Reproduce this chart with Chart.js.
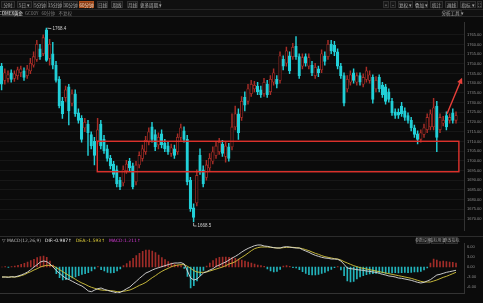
<!DOCTYPE html>
<html>
<head>
<meta charset="utf-8">
<script src="https://cdn.jsdelivr.net/npm/chart.js@4.4.1/dist/chart.umd.min.js"></script>
<style>
  body { margin: 0; background: #0b0b0b; width: 483px; height: 303px; overflow: hidden; position: relative; }
  canvas { position: absolute; left: 0; display: block; }
  #top { top: 0; }
  #main { top: 17px; }
  #macd { top: 236px; }
</style>
</head>
<body>
<canvas id="top" width="483" height="17"></canvas>
<canvas id="main" width="483" height="219"></canvas>
<canvas id="macd" width="483" height="67"></canvas>
<script>
// hourly candles, COMEX gold
const opens = [
  1748.8,1741.5,1742.5,1745.4,1742.5,1743.9,1745.4,1746.4,1743.9,1746.4,
  1749.3,1752.3,1757.7,1755.2,1767.5,1752.8,1755.2,1749.3,1742.0,1730.7,
  1732.7,1738.1,1729.7,1734.6,1724.8,1721.9,1717.0,1718.9,1713.6,1710.1,
  1710.1,1718.9,1711.1,1706.2,1701.3,1698.4,1695.4,1690.0,1688.6,1694.9,
  1699.8,1697.4,1689.1,1697.9,1701.3,1704.7,1709.6,1717.5,1713.6,1708.2,
  1714.0,1709.1,1707.7,1703.8,1706.2,1704.7,1712.1,1715.5,1711.1,1690.0,
  1675.8,1678.3,1702.8,1695.4,1691.5,1696.4,1699.8,1702.8,1704.7,1708.7,
  1702.3,1707.2,1707.2,1717.5,1724.3,1722.4,1732.7,1730.7,1734.6,1737.1,
  1738.5,1736.6,1734.6,1739.5,1735.6,1740.5,1742.0,1741.5,1752.3,1750.3,
  1754.2,1753.7,1759.1,1753.7,1748.8,1753.7,1748.8,1749.3,1743.9,1747.4,
  1746.9,1754.2,1753.7,1760.1,1759.6,1756.2,1748.8,1743.9,1737.1,1740.5,
  1745.4,1740.5,1743.9,1739.5,1742.0,1741.5,1743.0,1737.1,1743.0,1739.0,
  1738.1,1735.6,1730.7,1725.3,1725.0,1728.3,1725.8,1723.4,1720.9,1717.0,
  1714.0,1711.1,1713.6,1716.0,1717.5,1717.5,1728.3,1716.0,1719.4,1723.4,
  1720.9,1724.8,1720.9
];
const highs = [
  1750.3,1747.4,1746.4,1746.9,1746.4,1748.3,1748.8,1747.9,1749.3,1752.8,
  1756.2,1762.1,1760.1,1765.0,1768.4,1762.6,1761.1,1751.3,1743.4,1732.7,
  1738.5,1739.5,1736.6,1736.6,1726.8,1723.4,1721.9,1720.9,1715.0,1712.1,
  1721.9,1720.9,1713.1,1708.2,1702.8,1699.8,1697.4,1691.5,1697.4,1700.3,
  1701.3,1698.9,1699.8,1704.7,1708.2,1712.6,1717.0,1719.9,1716.0,1714.5,
  1716.0,1711.1,1709.6,1708.7,1708.2,1714.0,1718.9,1717.5,1713.1,1691.5,
  1677.8,1695.4,1706.2,1697.4,1700.3,1703.8,1707.2,1709.6,1711.6,1710.6,
  1709.6,1709.1,1724.3,1728.3,1726.8,1733.2,1735.6,1739.5,1741.5,1741.0,
  1740.5,1738.5,1742.5,1741.5,1743.9,1747.4,1743.9,1756.2,1754.2,1758.6,
  1756.2,1760.6,1764.0,1755.2,1755.2,1755.2,1755.2,1751.3,1750.3,1748.8,
  1757.2,1756.2,1762.1,1762.1,1761.6,1757.7,1750.3,1745.4,1743.9,1746.4,
  1747.4,1745.4,1745.4,1744.9,1748.3,1746.4,1744.4,1743.4,1744.4,1740.5,
  1739.5,1737.1,1732.2,1726.8,1726.8,1730.2,1727.3,1724.8,1722.4,1718.5,
  1715.5,1716.0,1718.9,1724.3,1726.3,1732.2,1730.7,1724.3,1722.9,1725.3,
  1724.3,1726.8,1725.3
];
const lows = [
  1736.6,1739.5,1740.5,1740.5,1741.0,1742.0,1743.4,1741.5,1742.5,1744.9,
  1748.3,1751.3,1752.3,1754.2,1751.3,1749.3,1747.4,1740.5,1727.3,1721.9,
  1730.7,1718.5,1728.3,1722.9,1719.4,1709.6,1715.0,1702.8,1706.2,1697.9,
  1708.7,1706.2,1703.8,1699.8,1695.9,1691.5,1686.6,1685.1,1687.1,1693.5,
  1694.9,1685.6,1687.6,1696.4,1699.8,1703.3,1708.2,1709.6,1705.2,1706.2,
  1706.7,1704.7,1703.3,1702.3,1701.3,1703.3,1710.6,1709.6,1687.6,1673.9,
  1668.5,1676.8,1693.0,1686.6,1690.0,1694.9,1698.4,1701.3,1703.3,1702.3,
  1699.3,1699.8,1705.7,1716.0,1711.1,1720.9,1725.8,1729.2,1733.2,1735.6,
  1734.1,1732.7,1733.2,1732.7,1734.1,1739.0,1737.6,1740.0,1746.9,1748.8,
  1744.9,1752.3,1752.3,1742.5,1747.4,1748.8,1747.4,1743.9,1742.5,1743.4,
  1745.4,1749.3,1752.3,1755.2,1754.2,1747.4,1742.5,1728.3,1735.6,1739.0,
  1740.0,1739.0,1739.0,1738.1,1740.5,1740.0,1729.7,1735.6,1735.6,1732.7,
  1729.2,1730.2,1723.4,1721.9,1721.9,1722.9,1720.9,1719.4,1715.5,1712.1,
  1708.7,1709.6,1712.1,1714.5,1716.0,1716.0,1704.7,1714.5,1718.0,1716.0,
  1719.4,1719.4,1719.4
];
const closes = [
  1739.5,1745.4,1744.4,1742.0,1744.9,1746.9,1747.4,1743.0,1747.4,1750.3,
  1753.7,1760.1,1753.7,1763.5,1751.8,1760.1,1749.3,1741.5,1728.3,1724.3,
  1736.6,1725.8,1734.6,1724.3,1720.9,1711.1,1719.9,1714.5,1707.7,1702.8,
  1716.0,1707.7,1705.2,1701.3,1697.4,1693.0,1688.1,1686.6,1695.4,1698.4,
  1696.4,1686.6,1697.9,1702.8,1706.2,1710.6,1715.0,1711.1,1707.2,1712.1,
  1708.2,1706.2,1704.7,1706.7,1702.8,1712.1,1717.0,1711.1,1689.1,1675.3,
  1670.9,1692.5,1694.4,1688.1,1697.9,1701.3,1704.7,1707.7,1709.6,1703.8,
  1707.7,1701.3,1717.5,1724.3,1714.5,1730.7,1728.7,1737.1,1739.5,1739.0,
  1735.6,1734.1,1740.5,1734.1,1742.0,1745.4,1739.5,1754.2,1748.8,1756.7,
  1746.4,1758.6,1753.7,1743.9,1753.2,1750.3,1753.2,1745.4,1748.3,1745.4,
  1755.2,1751.3,1760.1,1756.7,1756.2,1748.8,1743.9,1729.7,1742.0,1744.4,
  1741.5,1743.9,1740.5,1743.0,1746.4,1744.4,1731.7,1741.5,1737.1,1734.1,
  1730.7,1731.7,1724.8,1723.4,1723.6,1724.3,1722.4,1720.9,1717.0,1713.6,
  1711.1,1714.5,1717.0,1722.4,1724.3,1727.3,1712.1,1722.4,1720.9,1717.5,
  1722.4,1720.9,1723.4
];

// MACD(12,26,9)
const dif = [
  -3.0,-3.0,-3.1,-2.9,-3.0,-2.7,-2.4,-2.0,-1.5,-0.8,
  0.0,0.7,1.5,1.8,1.6,0.9,0.0,-1.1,-1.9,-2.7,
  -3.4,-3.8,-4.3,-4.8,-5.3,-5.7,-6.4,-7.2,-7.4,-6.9,
  -6.5,-6.3,-6.7,-7.0,-7.3,-7.5,-7.8,-7.6,-7.1,-6.5,
  -6.0,-5.1,-4.3,-3.4,-2.6,-1.8,-1.4,-0.9,-0.5,-0.2,
  0.1,0.4,0.7,1.0,1.2,1.2,1.3,0.9,-1.2,-3.3,
  -3.9,-3.6,-2.7,-1.8,-1.4,-0.9,-0.5,0.2,0.6,1.1,
  1.5,2.1,2.7,3.2,3.8,4.5,5.1,5.6,6.0,6.4,
  6.6,6.6,6.3,6.2,6.0,5.8,5.7,5.7,6.0,6.1,
  6.0,5.8,5.7,5.7,5.2,4.8,4.4,3.9,3.5,3.2,
  2.9,2.7,2.6,2.4,2.4,2.3,1.8,0.8,-0.3,-0.5,
  -0.6,-0.8,-0.9,-1.0,-1.2,-1.3,-1.5,-1.6,-1.9,-2.2,
  -2.4,-2.7,-2.8,-3.0,-3.3,-3.4,-3.6,-3.8,-4.0,-4.3,
  -4.6,-4.8,-4.6,-4.2,-3.8,-3.1,-2.4,-2.2,-1.9,-1.6,
  -1.4,-1.2,-0.987
];
const dea = [
  -3.0,-3.0,-3.0,-3.0,-3.0,-2.9,-2.6,-2.3,-1.8,-1.4,
  -0.9,-0.5,0.0,0.3,0.5,0.5,0.3,-0.2,-0.8,-1.4,
  -2.0,-2.6,-3.1,-3.7,-4.3,-4.8,-5.2,-5.7,-6.1,-6.4,
  -6.7,-6.9,-7.0,-7.0,-7.1,-7.2,-7.4,-7.4,-7.3,-7.1,
  -6.9,-6.5,-6.0,-5.5,-5.1,-4.6,-3.9,-3.2,-2.6,-1.9,
  -1.3,-0.8,-0.4,0.1,0.4,0.6,0.7,0.7,0.2,-0.4,
  -1.1,-1.5,-1.6,-1.6,-1.5,-1.2,-0.9,-0.6,-0.3,0.0,
  0.4,0.9,1.2,1.6,2.3,2.9,3.5,4.2,4.9,5.5,
  5.8,6.0,6.0,6.0,5.9,5.8,5.7,5.7,5.8,5.9,
  5.9,5.9,5.8,5.7,5.5,5.2,4.9,4.5,4.1,3.8,
  3.4,3.1,2.9,2.7,2.5,2.4,2.1,1.6,1.2,0.8,
  0.4,0.1,-0.2,-0.4,-0.6,-0.8,-1.0,-1.2,-1.4,-1.6,
  -1.8,-2.0,-2.2,-2.4,-2.6,-2.8,-3.0,-3.2,-3.4,-3.7,
  -4.0,-4.3,-4.5,-4.5,-4.5,-4.2,-3.9,-3.5,-3.1,-2.8,
  -2.4,-2.0,-1.593
];
const macdHist = [
  0.0,0.1,-0.1,0.1,0.3,0.5,0.8,1.1,1.5,1.9,
  2.3,2.8,3.1,3.3,2.9,1.8,0.6,-2.0,-3.2,-3.9,
  -3.8,-3.6,-3.3,-3.0,-2.6,-2.2,-2.0,-1.7,-1.2,-0.6,
  0.1,-0.8,-1.2,-1.6,-1.8,-1.7,-1.2,-0.6,0.4,1.0,
  1.8,2.6,3.4,4.1,4.7,5.1,5.1,4.8,4.3,3.6,
  2.8,2.2,1.6,1.2,0.9,0.6,0.4,-0.4,-2.8,-6.3,
  -5.6,-4.2,-2.6,-1.0,0.3,1.2,1.9,2.5,2.9,3.0,
  3.0,2.9,2.8,2.6,2.4,2.1,1.8,1.5,1.2,0.9,
  0.6,0.4,0.2,-0.6,-1.2,-1.5,-1.3,-0.7,0.3,0.4,
  0.2,-0.2,-0.3,-0.8,-1.4,-1.9,-2.3,-2.4,-2.4,-2.2,
  -1.9,-1.6,-1.2,-0.7,-0.2,0.1,-0.9,-2.6,-4.2,-4.5,
  -4.3,-3.6,-3.0,-2.6,-2.3,-2.1,-2.0,-1.9,-1.8,-1.8,
  -1.9,-1.8,-1.8,-1.7,-1.8,-1.7,-1.6,-1.7,-1.6,-1.5,
  -1.5,-1.3,-0.9,-0.3,1.2,2.4,2.1,1.6,1.8,1.6,
  1.5,1.4,1.211
];

// axis ticks
const priceTicks = [1765,1760,1755,1750,1745,1740,1735,1730,1725,1720,1715,1710,1705,1700,1695,1690,1685,1680,1675,1670];
const macdTicks = [6, 3, 0, -3, -6];
const tickIndex = [4,10,17,22,29,32,36,40,47,52,60,63,70,79,82,88,94,100,109,114,118,124,129,137,141];
const tickText = ['4:00','14:30','4/21','9:30','20:30','4/22','4:00','17:30','4/23','9:30','17:30','4/26','12:30','4/27','7:30','15:30','4/28','11:30','4/29','6:30','15:30','4/30','10:30','18:30','5/03'];

// hand-drawn marks on the chart (in data units)
const zone = { from: 29.9, to: 142.9, top: 1710.1, bottom: 1694.4 };
const arrow = { x0: 139.2, y0: 1724.3, x1: 143.9, y1: 1742.9 };

const RED = '#a82d27';
const CYAN = '#22d0d8';
const BG = '#0b0b0b';
const AXIS_W = 19;

const slots = opens.length + 2;
const categories = new Array(slots).fill('');
tickIndex.forEach((k, j) => { categories[k] = tickText[j]; });

const bodies = opens.map((o, i) => [o, closes[i]]);
const wicks = lows.map((l, i) => [l, highs[i]]);
const isUp = i => closes[i] >= opens[i];

// ---- toolbar (plain canvas) ----
(function drawTop() {
  const c = document.getElementById('top').getContext('2d');
  c.fillStyle = '#101010';
  c.fillRect(0, 0, 483, 17);
  c.strokeStyle = '#262626';
  c.lineWidth = 1;
  c.beginPath(); c.moveTo(0, 9.5); c.lineTo(483, 9.5); c.moveTo(0, 16.5); c.lineTo(483, 16.5); c.stroke();
  c.font = '4.5px "Noto Sans CJK SC"';
  c.textAlign = 'center';
  c.textBaseline = 'middle';
  const btns = [
    [1, 14, '分时'], [17, 15, '5日 ▾'], [33, 14, '5分钟'], [48, 14, '15分钟'], [63, 15, '30分钟'],
    [79, 15, '60分钟', true], [97, 11, '日线'], [111, 12, '周线'], [127, 11, '月线'], [141, 20, '更多周期 ▾'],
    [383, 6, '+'], [390, 6, '−'], [398, 15, '复权 ▾'], [415, 13, '叠加 ▾'], [430, 13, '统计'],
    [445, 13, '画线'], [460, 16, '指标 ▾'], [477, 5, '⛶']
  ];
  btns.forEach(([x, w, t, on]) => {
    c.fillStyle = on ? '#8a3a12' : '#181818';
    c.fillRect(x, 1, w, 7);
    c.strokeStyle = on ? '#b0501c' : '#303030';
    c.strokeRect(x + 0.5, 1.5, w - 1, 6);
    c.fillStyle = on ? '#f0d8c0' : '#a8a8a8';
    c.fillText(t, x + w / 2, 4.8);
  });
  c.fillStyle = '#202020';
  c.fillRect(2, 10.5, 18, 5);
  c.strokeStyle = '#3a3a3a';
  c.strokeRect(2.5, 10.5, 17, 5);
  c.fillStyle = '#e0e0e0';
  c.fillText('COMEX黄金', 11, 13.2);
  c.textAlign = 'left';
  c.fillStyle = '#7a7a7a';
  c.fillText('GC00Y   60分钟   不复权', 25, 13.2);
  c.fillStyle = '#181818';
  c.fillRect(443, 10.5, 19, 5);
  c.strokeStyle = '#303030';
  c.strokeRect(443.5, 10.5, 18, 5);
  c.fillStyle = '#a0a0a0';
  c.textAlign = 'center';
  c.fillText('分析工具 ▾', 452.5, 13.2);
})();

// ---- main candlestick chart ----
const overlay = {
  id: 'overlay',
  afterDatasetsDraw(chart) {
    const { ctx, scales: { x, y } } = chart;
    ctx.save();
    // support zone
    const zx0 = x.getPixelForValue(zone.from), zx1 = x.getPixelForValue(zone.to);
    const zy0 = y.getPixelForValue(zone.top), zy1 = y.getPixelForValue(zone.bottom);
    ctx.strokeStyle = '#e0332d';
    ctx.lineWidth = 1.4;
    ctx.strokeRect(zx0, zy0, zx1 - zx0, zy1 - zy0);
    // arrow
    const ax0 = x.getPixelForValue(arrow.x0), ay0 = y.getPixelForValue(arrow.y0);
    const ax1 = x.getPixelForValue(arrow.x1), ay1 = y.getPixelForValue(arrow.y1);
    const ang = Math.atan2(ay1 - ay0, ax1 - ax0);
    ctx.strokeStyle = '#e8403a';
    ctx.fillStyle = '#e8403a';
    ctx.lineWidth = 1.4;
    ctx.beginPath();
    ctx.moveTo(ax0, ay0);
    ctx.lineTo(ax1 - 4 * Math.cos(ang), ay1 - 4 * Math.sin(ang));
    ctx.stroke();
    ctx.beginPath();
    ctx.moveTo(ax1, ay1);
    ctx.lineTo(ax1 - 6 * Math.cos(ang) + 2.8 * Math.sin(ang), ay1 - 6 * Math.sin(ang) - 2.8 * Math.cos(ang));
    ctx.lineTo(ax1 - 6 * Math.cos(ang) - 2.8 * Math.sin(ang), ay1 - 6 * Math.sin(ang) + 2.8 * Math.cos(ang));
    ctx.closePath();
    ctx.fill();
    // high / low marks
    const hi = highs.indexOf(Math.max(...highs));
    const lo = lows.indexOf(Math.min(...lows));
    ctx.font = '4.5px "Liberation Sans"';
    ctx.textBaseline = 'middle';
    ctx.strokeStyle = '#c8c8c8';
    ctx.fillStyle = '#d0d0d0';
    ctx.lineWidth = 0.8;
    const hx = x.getPixelForValue(hi), hy = y.getPixelForValue(highs[hi]);
    ctx.beginPath(); ctx.moveTo(hx + 1, hy); ctx.lineTo(hx + 5, hy + 0.5); ctx.stroke();
    ctx.fillText(highs[hi].toFixed(1), hx + 6, hy + 0.5);
    const lx = x.getPixelForValue(lo), ly = y.getPixelForValue(lows[lo]);
    ctx.beginPath(); ctx.moveTo(lx, ly + 1); ctx.lineTo(lx, ly + 4); ctx.lineTo(lx + 3, ly + 4); ctx.stroke();
    ctx.fillText(lows[lo].toFixed(1), lx + 4, ly + 4);
    ctx.restore();
  }
};

new Chart(document.getElementById('main').getContext('2d'), {
  type: 'bar',
  data: {
    labels: categories,
    datasets: [{
      label: 'body',
      data: bodies,
      grouped: false,
      barThickness: 2.6,
      borderWidth: 0.8,
      borderSkipped: false,
      backgroundColor: ctx => isUp(ctx.dataIndex) ? BG : CYAN,
      borderColor: ctx => isUp(ctx.dataIndex) ? RED : CYAN,
      order: 0
    }, {
      label: 'wick',
      data: wicks,
      grouped: false,
      barThickness: 0.8,
      backgroundColor: ctx => isUp(ctx.dataIndex) ? RED : CYAN,
      order: 1
    }]
  },
  options: {
    responsive: false,
    animation: false,
    events: [],
    layout: { padding: 0, autoPadding: false },
    plugins: { legend: { display: false }, tooltip: { enabled: false } },
    scales: {
      x: { display: false },
      y: {
        position: 'right',
        min: 1664.06,
        max: 1771.37,
        afterBuildTicks: s => { s.ticks = priceTicks.map(v => ({ value: v })); },
        afterFit: s => { s.width = AXIS_W; },
        ticks: {
          color: '#8c8c8c',
          padding: 3,
          font: { size: 4, family: 'Liberation Sans' },
          callback: v => v.toFixed(2)
        },
        grid: { color: '#171717', drawTicks: false },
        border: { color: '#333' }
      }
    }
  },
  plugins: [overlay]
});

// ---- MACD panel ----
const macdHeader = {
  id: 'macdHeader',
  afterDraw(chart) {
    const ctx = chart.ctx;
    ctx.save();
    ctx.strokeStyle = '#2c2c2c';
    ctx.lineWidth = 1;
    ctx.beginPath(); ctx.moveTo(0, 0.5); ctx.lineTo(483, 0.5); ctx.stroke();
    ctx.font = '4.5px "DejaVu Sans"';
    ctx.textBaseline = 'middle';
    const last = dif.length - 1;
    const parts = [
      ['▽ MACD(12,26,9)', '#b0b0b0'],
      ['DIF:' + dif[last].toFixed(3) + '↑', '#e8e8e8'],
      ['DEA:' + dea[last].toFixed(3) + '↑', '#e6d43a'],
      ['MACD:' + macdHist[last].toFixed(3) + '↑', '#d43ad4']
    ];
    let tx = 2;
    parts.forEach(([t, col]) => {
      ctx.fillStyle = col;
      ctx.fillText(t, tx, 4.5);
      tx += ctx.measureText(t).width + 4;
    });
    ctx.font = '4px "Noto Sans CJK SC"';
    ctx.textAlign = 'center';
    [[416, 14, '参数设置'], [431, 13, '指标用法'], [445, 13, '修改指标']].forEach(([bx, w, t]) => {
      ctx.fillStyle = '#181818';
      ctx.fillRect(bx, 1.5, w, 6);
      ctx.strokeStyle = '#303030';
      ctx.strokeRect(bx + 0.5, 1.5, w - 1, 6);
      ctx.fillStyle = '#9a9a9a';
      ctx.fillText(t, bx + w / 2, 4.6);
    });
    ctx.restore();
  }
};

new Chart(document.getElementById('macd').getContext('2d'), {
  type: 'bar',
  data: {
    labels: categories,
    datasets: [{
      type: 'line',
      label: 'DIF',
      data: dif,
      borderColor: '#dcdcdc',
      borderWidth: 0.9,
      pointRadius: 0,
      tension: 0,
      order: 0
    }, {
      type: 'line',
      label: 'DEA',
      data: dea,
      borderColor: '#d8c840',
      borderWidth: 0.9,
      pointRadius: 0,
      tension: 0,
      order: 1
    }, {
      label: 'MACD',
      data: macdHist,
      barThickness: 1,
      backgroundColor: ctx => macdHist[ctx.dataIndex] >= 0 ? '#a02c28' : '#22b4bc',
      order: 2
    }]
  },
  options: {
    responsive: false,
    animation: false,
    events: [],
    layout: { padding: { top: 7, left: 0, right: 0, bottom: 0 }, autoPadding: false },
    plugins: { legend: { display: false }, tooltip: { enabled: false } },
    scales: {
      x: {
        afterFit: s => { s.height = 10; },
        ticks: {
          autoSkip: false,
          maxRotation: 0,
          minRotation: 0,
          padding: 2,
          color: '#8c8c8c',
          font: { size: 4.5, family: 'Liberation Sans' },
          callback: (v, i) => categories[i]
        },
        grid: { display: false },
        border: { color: '#333' }
      },
      y: {
        position: 'right',
        min: -7.8,
        max: 7.2,
        afterBuildTicks: s => { s.ticks = macdTicks.map(v => ({ value: v })); },
        afterFit: s => { s.width = AXIS_W; },
        ticks: {
          color: '#8c8c8c',
          padding: 3,
          font: { size: 4, family: 'Liberation Sans' },
          callback: v => v.toFixed(2)
        },
        grid: { display: false, drawTicks: false },
        border: { color: '#333' }
      }
    }
  },
  plugins: [macdHeader]
});
</script>
</body>
</html>
